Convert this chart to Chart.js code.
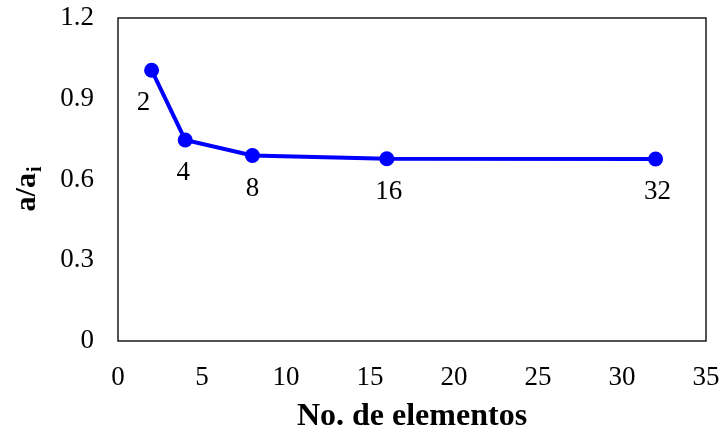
<!DOCTYPE html>
<html>
<head>
<meta charset="utf-8">
<script src="https://cdn.jsdelivr.net/npm/chart.js@4"></script>
<style>
html,body{margin:0;padding:0;background:#fff;}
#wrap{width:722px;height:434px;}
</style>
</head>
<body>
<div id="wrap"><canvas id="c" width="722" height="434"></canvas></div>
<script>
const elementCounts = [2, 4, 8, 16, 32];
const ratioValues = [1.006, 0.747, 0.689, 0.677, 0.676];
const pointLabels = ['2', '4', '8', '16', '32'];
const xTicks = [0, 5, 10, 15, 20, 25, 30, 35];
const yTicks = [0, 0.3, 0.6, 0.9, 1.2];
const xTitle = 'No. de elementos';
const yTitleMain = 'a/a';
const yTitleSub = 'i';

const FONT = '"Liberation Serif", "Times New Roman", serif';

const boxPlugin = {
  id: 'box',
  afterDraw(chart) {
    const a = chart.chartArea, ctx = chart.ctx;
    ctx.save();
    ctx.strokeStyle = '#1a1a1a';
    ctx.lineWidth = 1.5;
    ctx.strokeRect(a.left, a.top, a.right - a.left, a.bottom - a.top);
    ctx.restore();
  }
};

const labelPlugin = {
  id: 'ptLabels',
  afterDatasetsDraw(chart, args, opts) {
    const ctx = chart.ctx;
    const meta = chart.getDatasetMeta(0);
    ctx.save();
    ctx.font = '27px ' + FONT;
    ctx.fillStyle = '#000';
    ctx.textAlign = 'center';
    ctx.textBaseline = 'middle';
    meta.data.forEach((pt, i) => {
      const dx = (opts.dx && opts.dx[i]) || 0;
      ctx.fillText(pointLabels[i], pt.x + dx, pt.y + opts.dy);
    });
    ctx.restore();
  }
};

const titlePlugin = {
  id: 'titles',
  afterDraw(chart) {
    const a = chart.chartArea, ctx = chart.ctx;
    ctx.save();
    ctx.fillStyle = '#000';
    // x title
    ctx.font = 'bold 32px ' + FONT;
    ctx.textAlign = 'center';
    ctx.textBaseline = 'alphabetic';
    ctx.fillText(xTitle, (a.left + a.right) / 2, 425);
    // y title (rotated, with subscript)
    const cy = (a.top + a.bottom) / 2 + 10;
    ctx.translate(35, cy);
    ctx.rotate(-Math.PI / 2);
    ctx.font = 'bold 30px ' + FONT;
    const w1 = ctx.measureText(yTitleMain).width;
    ctx.font = 'bold 20px ' + FONT;
    const w2 = ctx.measureText(yTitleSub).width;
    const start = -(w1 + w2) / 2;
    ctx.textAlign = 'left';
    ctx.font = 'bold 30px ' + FONT;
    ctx.fillText(yTitleMain, start, 0);
    ctx.font = 'bold 20px ' + FONT;
    ctx.fillText(yTitleSub, start + w1 + 1, 6);
    ctx.restore();
  }
};

new Chart(document.getElementById('c'), {
  type: 'scatter',
  data: {
    datasets: [{
      data: elementCounts.map((x, i) => ({ x: x, y: ratioValues[i] })),
      showLine: true,
      borderColor: '#0000FF',
      backgroundColor: '#0000FF',
      borderWidth: 4,
      pointRadius: 7.5,
      pointHoverRadius: 7.5,
      pointBorderWidth: 0
    }]
  },
  options: {
    responsive: false,
    animation: false,
    layout: { padding: { top: 18, right: 16, left: 0, bottom: 0 } },
    plugins: {
      legend: { display: false },
      tooltip: { enabled: false },
      ptLabels: { dy: 33, dx: [-8, -2, 0, 2, 2] }
    },
    scales: {
      x: {
        type: 'linear',
        min: 0, max: 35,
        afterBuildTicks(s) { s.ticks = xTicks.map(v => ({ value: v })); },
        afterFit(s) { s.height = 93; s.paddingLeft = 0; s.paddingRight = 0; },
        grid: { display: false, drawTicks: false },
        border: { display: false },
        ticks: {
          color: '#000',
          font: { family: FONT, size: 27 },
          padding: 21,
          maxRotation: 0,
          autoSkip: false,
          callback: v => String(v)
        },
        title: { display: false }
      },
      y: {
        type: 'linear',
        min: 0, max: 1.2,
        afterBuildTicks(s) { s.ticks = yTicks.map(v => ({ value: v })); },
        afterFit(s) { s.width = 118; s.paddingTop = 0; s.paddingBottom = 0; },
        grid: { display: false, drawTicks: false },
        border: { display: false },
        ticks: {
          color: '#000',
          font: { family: FONT, size: 27 },
          padding: 24,
          autoSkip: false,
          callback: v => (v === 0 ? '0' : v.toFixed(1))
        },
        title: { display: false }
      }
    }
  },
  plugins: [boxPlugin, labelPlugin, titlePlugin]
});
</script>
</body>
</html>
